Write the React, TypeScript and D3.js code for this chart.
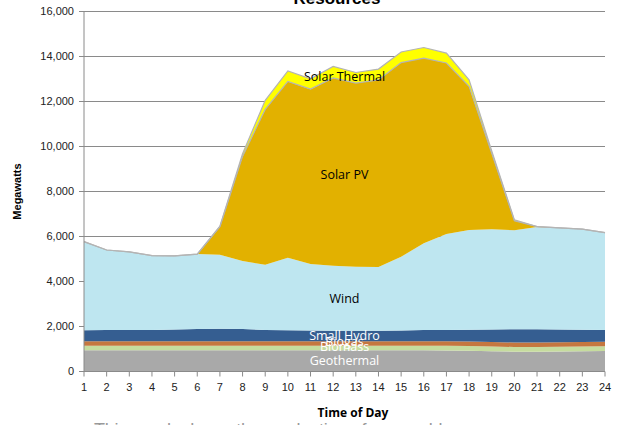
import React from 'react';
import * as d3 from 'd3';

// hours of the day (x axis)
const hours = d3.range(1, 25);

// megawatts per resource (bottom of the stack first)
const geothermal = [940, 940, 940, 940, 940, 940, 940, 940, 940, 940, 940, 940, 940, 940, 940, 940, 930, 920, 900, 880, 880, 890, 900, 910];
const biomass = [210, 210, 210, 210, 210, 210, 210, 210, 210, 210, 210, 210, 210, 210, 210, 210, 210, 210, 210, 210, 210, 210, 210, 210];
const biogas = [200, 200, 200, 200, 200, 200, 200, 200, 200, 200, 200, 200, 200, 200, 200, 200, 200, 200, 200, 200, 200, 200, 200, 200];
const smallHydro = [480, 490, 490, 500, 520, 540, 550, 540, 500, 480, 470, 460, 460, 460, 470, 490, 510, 530, 560, 590, 590, 570, 550, 520];
const wind = [3940, 3560, 3480, 3300, 3270, 3330, 3290, 3020, 2890, 3230, 2960, 2890, 2850, 2840, 3280, 3860, 4260, 4430, 4450, 4400, 4540, 4510, 4470, 4330];
const solarPV = [0, 0, 0, 0, 0, 0, 1250, 4650, 6910, 7830, 7770, 8350, 8160, 8310, 8630, 8230, 7600, 6380, 3380, 420, 20, 0, 0, 0];
const solarThermal = [0, 0, 0, 0, 0, 0, 20, 120, 400, 470, 460, 510, 470, 480, 470, 470, 440, 290, 100, 40, 0, 0, 0, 0];

const yTicks = [0, 2000, 4000, 6000, 8000, 10000, 12000, 14000, 16000];

const series = [
  { key: 'Geothermal', values: geothermal, color: '#a9a9a9' },
  { key: 'Biomass', values: biomass, color: '#c6dc9e' },
  { key: 'Biogas', values: biogas, color: '#c5773f' },
  { key: 'Small Hydro', values: smallHydro, color: '#355e91' },
  { key: 'Wind', values: wind, color: '#bee6f0' },
  { key: 'Solar PV', values: solarPV, color: '#e2b100' },
  { key: 'Solar Thermal', values: solarThermal, color: '#ffff00' },
];

// in-chart labels: name, value for baseline, colour
const labels = [
  { text: 'Solar Thermal', at: 12900, fill: '#000' },
  { text: 'Solar PV', at: 8550, fill: '#000' },
  { text: 'Wind', at: 3050, fill: '#000' },
  { text: 'Small Hydro', at: 1400, fill: '#fff' },
  { text: 'Biogas', at: 1150, fill: '#fff' },
  { text: 'Biomass', at: 890, fill: '#fff' },
  { text: 'Geothermal', at: 310, fill: '#fff' },
];

const W = 619;
const H = 425;

export default function App() {
  const x = d3.scaleLinear().domain([1, 24]).range([84, 605]);
  const y = d3.scaleLinear().domain([0, 16000]).range([371.5, 11.5]);

  const table = hours.map((h, i) => {
    const row: any = { hour: h };
    series.forEach(s => { row[s.key] = s.values[i]; });
    return row;
  });
  const stacked = d3.stack().keys(series.map(s => s.key))(table);

  const area = d3.area<any>()
    .x(d => x(d.data.hour))
    .y0(d => y(d[0]))
    .y1(d => y(d[1]));
  const topLine = d3.line<any>()
    .x(d => x(d.data.hour))
    .y(d => y(d[1]));

  const fmt = d3.format(',');
  const labelFont = '"Open Sans", sans-serif';

  return (
    <div style={{ position: 'absolute', left: 0, top: 0 }}>
      <svg width={W} height={H} style={{ display: 'block', background: '#fff' }}>
        {/* title, mostly cut off at the top */}
        <text x={337} y={4} textAnchor="middle" fontFamily="Liberation Sans, Arial, sans-serif"
          fontWeight="bold" fontSize={17} fill="#000">Resources</text>

        {/* gridlines */}
        {yTicks.map(t => (
          <line key={t} x1={x(1)} x2={x(24)} y1={y(t)} y2={y(t)} stroke="#8a8a8a" strokeWidth={1} />
        ))}

        {/* stacked areas */}
        {stacked.map((layer, i) => (
          <path key={layer.key} d={area(layer) || ''} fill={series[i].color} />
        ))}
        {/* grey borders on the solar series */}
        {stacked.slice(5).map(layer => (
          <path key={'l' + layer.key} d={topLine(layer) || ''} fill="none" stroke="#b4b4b4" strokeWidth={1.2} />
        ))}

        {/* y axis */}
        <line x1={x(1)} x2={x(1)} y1={y(0)} y2={y(16000)} stroke="#8a8a8a" />
        {yTicks.map(t => (
          <g key={'y' + t}>
            <line x1={x(1) - 5} x2={x(1)} y1={y(t)} y2={y(t)} stroke="#8a8a8a" />
            <text x={x(1) - 10} y={y(t)} dy="0.35em" textAnchor="end"
              fontFamily="Liberation Sans, Arial, sans-serif" fontSize={11} fill="#222">{fmt(t)}</text>
          </g>
        ))}

        {/* x axis */}
        <line x1={x(1)} x2={x(24)} y1={y(0)} y2={y(0)} stroke="#8a8a8a" />
        {hours.map(h => (
          <g key={'x' + h}>
            <line x1={x(h)} x2={x(h)} y1={y(0)} y2={y(0) + 5} stroke="#8a8a8a" />
            <text x={x(h)} y={y(0) + 19} textAnchor="middle"
              fontFamily="Liberation Sans, Arial, sans-serif" fontSize={11} fill="#222">{h}</text>
          </g>
        ))}

        {/* axis titles */}
        <text transform={`translate(21,${y(8000)}) rotate(-90)`} textAnchor="middle"
          fontFamily="Liberation Sans, Arial, sans-serif" fontWeight="bold" fontSize={11} fill="#000">Megawatts</text>
        <text x={353} y={417} textAnchor="middle" fontFamily={labelFont}
          fontWeight="bold" fontSize={12} fill="#000">Time of Day</text>

        {/* in-chart series labels */}
        {labels.map(l => (
          <text key={l.text} x={x(12.5)} y={y(l.at)} textAnchor="middle"
            fontFamily={labelFont} fontSize={12.5} fill={l.fill}>{l.text}</text>
        ))}

        {/* caption below, cut off by the frame */}
        <text x={94} y={436} fontFamily="Liberation Sans, Arial, sans-serif" fontSize={18}
          fill="#999" textLength={440}>This graph shows the production of renewable resources</text>
      </svg>
    </div>
  );
}
